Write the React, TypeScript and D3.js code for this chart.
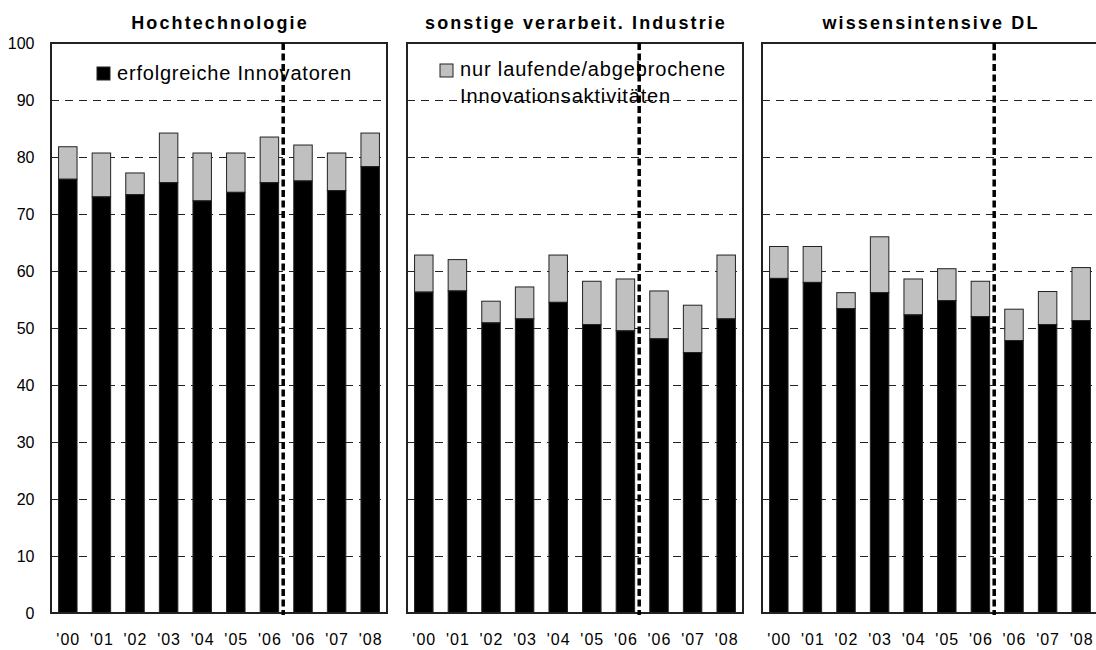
import React from "react";
import * as d3 from "d3";

const years = ["'00", "'01", "'02", "'03", "'04", "'05", "'06", "'06b", "'07", "'08"];
const yearLabels = ["'00", "'01", "'02", "'03", "'04", "'05", "'06", "'06", "'07", "'08"];
const panelTitles = ["Hochtechnologie", "sonstige verarbeit. Industrie", "wissensintensive DL"];

// erfolgreiche Innovatoren (black)
const successHT = [76.1, 73.0, 73.4, 75.5, 72.3, 73.8, 75.5, 75.8, 74.1, 78.3];
const successSV = [56.3, 56.5, 50.9, 51.6, 54.5, 50.6, 49.5, 48.1, 45.7, 51.6];
const successWD = [58.7, 58.0, 53.4, 56.2, 52.3, 54.8, 52.0, 47.8, 50.6, 51.3];
// total (Innovatoren + nur laufende/abgebrochene)
const totalHT = [81.8, 80.7, 77.2, 84.2, 80.7, 80.7, 83.5, 82.1, 80.7, 84.2];
const totalSV = [62.8, 62.0, 54.7, 57.2, 62.8, 58.2, 58.6, 56.5, 54.0, 62.8];
const totalWD = [64.3, 64.3, 56.2, 66.0, 58.6, 60.4, 58.2, 53.3, 56.4, 60.6];

const yTicks = [0, 10, 20, 30, 40, 50, 60, 70, 80, 90, 100];
const legend1 = "erfolgreiche Innovatoren";
const legend2a = "nur laufende/abgebrochene";
const legend2b = "Innovationsaktivitäten";

const panels = [
  { title: panelTitles[0], success: successHT, total: totalHT },
  { title: panelTitles[1], success: successSV, total: totalSV },
  { title: panelTitles[2], success: successWD, total: totalWD },
];

const W = 1096;
const H = 650;
const top = 43;
const bottom = 613;
const panelLeft = [51, 407, 762];
const panelW = 336;
const font = "Arial, 'Liberation Sans', sans-serif";

export default function App() {
  const y = d3.scaleLinear().domain([0, 100]).range([bottom, top]);
  return (
    <svg width={W} height={H} style={{ position: "absolute", left: 0, top: 0, background: "#fff" }} fontFamily={font}>
      {/* y-axis labels */}
      {yTicks.map((t) => (
        <text key={t} x={34.5} y={y(t)} dy="0.35em" textAnchor="end" fontSize={16} fill="#000">
          {t}
        </text>
      ))}
      {panels.map((p, pi) => {
        const x0 = panelLeft[pi];
        const x = d3.scaleBand().domain(years).range([x0, x0 + panelW]).paddingInner(0.45).paddingOuter(0.225);
        const bw = x.bandwidth();
        const step = x.step();
        const splitX = (x(years[6]) as number) + bw + (step - bw) / 2 - 3;
        return (
          <g key={pi}>
            <text x={x0 + panelW / 2 + 1} y={29} textAnchor="middle" fontSize={18} fontWeight="bold" letterSpacing={2.1}>
              {p.title}
            </text>
            {yTicks.map((t) => (
              <line key={t} x1={x0} x2={x0 + panelW} y1={y(t)} y2={y(t)} stroke="#222" strokeWidth={1} strokeDasharray="8,6" shapeRendering="crispEdges" />
            ))}
            {years.map((yr, i) => {
              const bx = x(yr) as number;
              return (
                <g key={yr}>
                  <rect x={bx} y={y(p.total[i])} width={bw} height={y(p.success[i]) - y(p.total[i])} fill="#c0c0c0" stroke="#222" strokeWidth={1} />
                  <rect x={bx} y={y(p.success[i])} width={bw} height={bottom - y(p.success[i])} fill="#000" stroke="#222" strokeWidth={1} />
                </g>
              );
            })}
            <rect x={x0} y={top} width={panelW} height={bottom - top} fill="none" stroke="#222" strokeWidth={1.2} shapeRendering="crispEdges" />
            <line x1={splitX} x2={splitX} y1={top} y2={bottom + 2} stroke="#000" strokeWidth={3.5} strokeDasharray="7,3.5" />
            {years.map((yr, i) => (
              <text key={yr} x={(x(yr) as number) + bw / 2 + 0.5} y={639} dy="0.35em" textAnchor="middle" fontSize={16} letterSpacing={1}>
                {yearLabels[i]}
              </text>
            ))}
          </g>
        );
      })}
      {/* legends */}
      <rect x={97} y={67} width={13} height={13} fill="#000" stroke="#222" />
      <text x={117} y={80} fontSize={20} letterSpacing={0.8}>{legend1}</text>
      <rect x={440} y={64} width={13} height={13} fill="#c0c0c0" stroke="#222" />
      <text x={460} y={76} fontSize={20} letterSpacing={0.85}>{legend2a}</text>
      <text x={460} y={103} fontSize={20} letterSpacing={0.85}>{legend2b}</text>
    </svg>
  );
}
